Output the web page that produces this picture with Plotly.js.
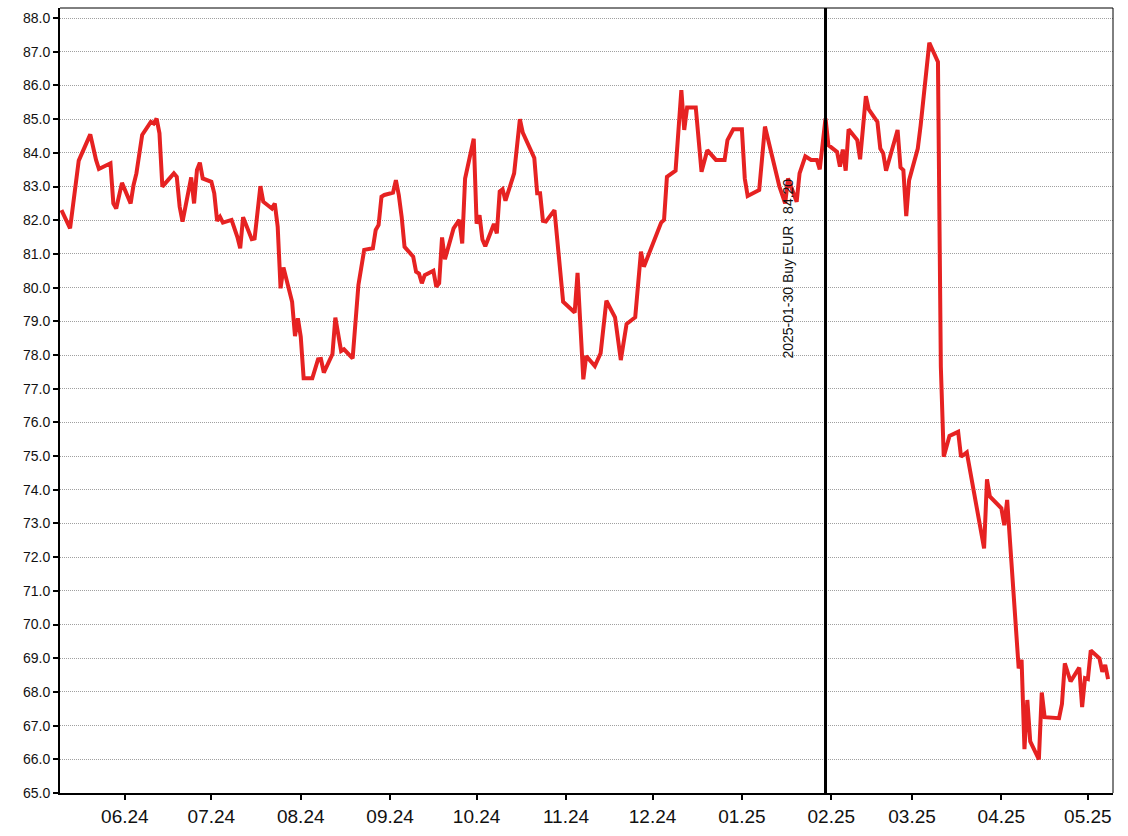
<!DOCTYPE html>
<html>
<head>
<meta charset="utf-8">
<script src="https://cdn.plot.ly/plotly-3.0.1.min.js"></script>
<style>html,body{margin:0;padding:0;background:#fff;}#chart{width:1128px;height:836px;}</style>
</head>
<body>
<div id="chart"></div>
<script>
const dates = [
"2024-05-10","2024-05-13","2024-05-16","2024-05-20","2024-05-22","2024-05-23","2024-05-27","2024-05-28","2024-05-29","2024-05-31",
"2024-06-03","2024-06-04","2024-06-05","2024-06-07","2024-06-10","2024-06-11","2024-06-12","2024-06-13","2024-06-14","2024-06-18",
"2024-06-19","2024-06-20","2024-06-21","2024-06-24","2024-06-25","2024-06-26","2024-06-27","2024-06-28","2024-07-01","2024-07-02",
"2024-07-03","2024-07-04","2024-07-05","2024-07-08","2024-07-10","2024-07-11","2024-07-12","2024-07-15","2024-07-16","2024-07-18",
"2024-07-19","2024-07-22","2024-07-23","2024-07-24","2024-07-25","2024-07-26","2024-07-29","2024-07-30","2024-07-31","2024-08-01",
"2024-08-02","2024-08-05","2024-08-07","2024-08-08","2024-08-09","2024-08-12","2024-08-13","2024-08-15","2024-08-16","2024-08-19",
"2024-08-21","2024-08-23","2024-08-26","2024-08-27","2024-08-28","2024-08-29","2024-08-30","2024-09-02","2024-09-03","2024-09-04",
"2024-09-05","2024-09-06","2024-09-09","2024-09-10","2024-09-11","2024-09-12","2024-09-13","2024-09-16","2024-09-17","2024-09-18",
"2024-09-19","2024-09-20","2024-09-23","2024-09-25","2024-09-26","2024-09-27","2024-09-30","2024-10-01","2024-10-02","2024-10-03",
"2024-10-04","2024-10-07","2024-10-08","2024-10-09","2024-10-10","2024-10-11","2024-10-14","2024-10-15","2024-10-16","2024-10-17",
"2024-10-21","2024-10-22","2024-10-23","2024-10-24","2024-10-25","2024-10-28","2024-10-31","2024-11-04","2024-11-05","2024-11-07",
"2024-11-08","2024-11-11","2024-11-13","2024-11-15","2024-11-18","2024-11-20","2024-11-22","2024-11-25","2024-11-27","2024-11-28",
"2024-12-02","2024-12-04","2024-12-05","2024-12-06","2024-12-09","2024-12-11","2024-12-12","2024-12-13","2024-12-16","2024-12-18",
"2024-12-20","2024-12-23","2024-12-26","2024-12-27","2024-12-29","2025-01-01","2025-01-02","2025-01-03","2025-01-07","2025-01-09",
"2025-01-14","2025-01-16","2025-01-17","2025-01-20","2025-01-21","2025-01-23","2025-01-25","2025-01-27","2025-01-28","2025-01-30",
"2025-01-31","2025-02-03","2025-02-04","2025-02-05","2025-02-06","2025-02-07","2025-02-10","2025-02-11","2025-02-13","2025-02-14",
"2025-02-17","2025-02-18","2025-02-19","2025-02-20","2025-02-24","2025-02-25","2025-02-26","2025-02-27","2025-02-28","2025-03-03",
"2025-03-04","2025-03-05","2025-03-07","2025-03-10","2025-03-11","2025-03-12","2025-03-14","2025-03-17","2025-03-18","2025-03-20",
"2025-03-24","2025-03-26","2025-03-27","2025-03-28","2025-04-01","2025-04-02","2025-04-03","2025-04-06","2025-04-07","2025-04-08",
"2025-04-09","2025-04-10","2025-04-11","2025-04-14","2025-04-15","2025-04-16","2025-04-21","2025-04-22","2025-04-23","2025-04-25",
"2025-04-28","2025-04-29","2025-04-30","2025-05-01","2025-05-02","2025-05-05","2025-05-06","2025-05-07","2025-05-08"
];
const prices = [
82.30,81.76,83.77,84.55,83.79,83.52,83.69,82.50,82.35,83.11,
82.50,83.04,83.39,84.53,84.92,84.87,85.02,84.58,83.00,83.39,
83.29,82.40,81.96,83.27,82.50,83.49,83.71,83.24,83.14,82.80,
81.98,82.10,81.93,82.01,81.51,81.17,82.09,81.44,81.46,83.01,
82.55,82.35,82.50,81.81,79.98,80.60,79.58,78.56,79.09,78.54,
77.31,77.31,77.87,77.88,77.48,78.03,79.11,78.12,78.17,77.90,
80.08,81.12,81.17,81.71,81.86,82.70,82.75,82.82,83.19,82.75,
82.10,81.21,80.92,80.47,80.42,80.13,80.37,80.50,80.03,80.13,
81.49,80.84,81.76,82.01,81.31,83.24,84.42,81.90,82.15,81.43,
81.23,81.89,81.61,82.85,82.92,82.58,83.39,84.30,85.00,84.60,
83.85,82.80,82.80,81.98,81.96,82.30,79.58,79.26,80.44,77.28,
77.97,77.67,78.05,79.61,79.12,77.85,78.92,79.12,81.07,80.62,
81.46,81.93,82.01,83.29,83.47,85.86,84.68,85.35,85.35,83.44,
84.08,83.79,83.79,84.38,84.70,84.70,83.24,82.72,82.90,84.78,
83.00,82.50,83.24,82.55,83.39,83.90,83.79,83.79,83.51,85.02,
84.23,84.03,83.59,84.10,83.47,84.70,84.38,83.81,85.68,85.29,
84.92,84.13,83.99,83.47,84.68,83.57,83.49,82.12,83.19,84.13,
84.82,85.72,87.27,86.70,77.65,74.98,75.60,75.72,74.98,75.11,
73.10,72.26,74.31,73.80,73.45,72.95,73.70,70.04,68.70,68.95,
66.30,67.76,66.53,66.00,67.98,67.25,67.22,67.64,68.85,68.31,
68.72,67.55,68.41,68.38,69.23,69.00,68.60,68.80,68.38
];
const buyDate = "2025-01-30";
const buyLabel = "2025-01-30 Buy EUR : 84.20";
const yTicks = [65,66,67,68,69,70,71,72,73,74,75,76,77,78,79,80,81,82,83,84,85,86,87,88];

const trace = {
  x: dates, y: prices, type: 'scatter', mode: 'lines',
  line: {color: '#e62222', width: 4, shape: 'linear'},
  hoverinfo: 'x+y'
};

const layout = {
  width: 1128, height: 836,
  margin: {l: 60, r: 15, t: 8, b: 43, pad: 0},
  paper_bgcolor: '#ffffff', plot_bgcolor: '#ffffff',
  showlegend: false,
  font: {family: 'Liberation Sans, Arial, sans-serif', color: '#111'},
  xaxis: {
    type: 'date',
    range: ['2024-05-09 12:00', '2025-05-09 17:00'],
    tick0: '2024-06-01', dtick: 'M1', tickformat: '%m.%y',
    ticks: 'outside', ticklen: 5, tickwidth: 2, tickcolor: '#000',
    tickfont: {size: 19, color: '#111'},
    showgrid: false, zeroline: false,
    showline: true, linecolor: '#000', linewidth: 2, mirror: false
  },
  yaxis: {
    range: [65, 88.3],
    tickvals: yTicks, tickformat: '.1f',
    ticks: 'outside', ticklen: 5, tickwidth: 2, tickcolor: '#000',
    tickfont: {size: 14, color: '#111'},
    showgrid: true, gridcolor: '#a0a0a0', gridwidth: 1, griddash: '1px,1px',
    zeroline: false,
    showline: true, linecolor: '#000', linewidth: 2, mirror: false
  },
  shapes: [
    {type: 'line', xref: 'paper', yref: 'paper', x0: 0, x1: 1, y0: 1, y1: 1, line: {color: '#000', width: 1}},
    {type: 'line', xref: 'paper', yref: 'paper', x0: 1, x1: 1, y0: 0, y1: 1, line: {color: '#000', width: 1}},
    {type: 'line', xref: 'x', yref: 'paper', x0: buyDate, x1: buyDate, y0: 0, y1: 1, line: {color: '#000', width: 3}}
  ],
  annotations: [
    {xref: 'x', yref: 'y', x: buyDate, y: 80.55, xshift: -37, text: buyLabel, textangle: -90,
     showarrow: false, xanchor: 'center', yanchor: 'middle', font: {size: 14, color: '#111'}}
  ]
};

Plotly.newPlot('chart', [trace], layout, {displayModeBar: false, staticPlot: true});
</script>
</body>
</html>
